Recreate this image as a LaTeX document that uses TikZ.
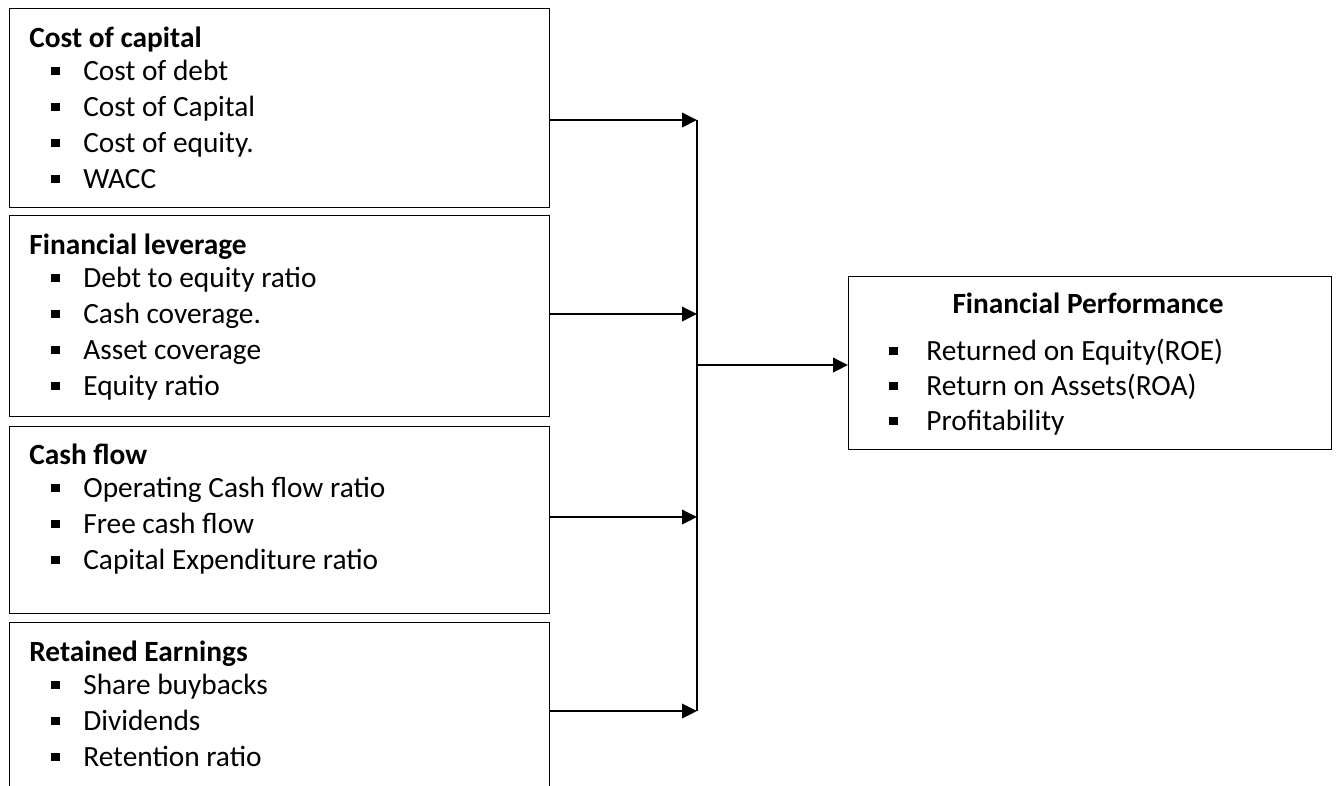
\documentclass[tikz,border=0pt]{standalone}
\usepackage{fontspec}
\setmainfont{Carlito}
\usetikzlibrary{arrows.meta}

\newcommand{\fs}{\fontsize{16.7}{20.5}\selectfont}
\newcommand{\sq}[1][0.64cm]{\makebox[#1][l]{\rule[0.1cm]{0.17cm}{0.17cm}}}
\tikzset{
  blk/.style={draw, line width=0.75pt, inner sep=0, anchor=north west},
  ttl/.style={font=\fs\bfseries, anchor=base west, inner sep=0},
  itm/.style={font=\fs, anchor=base west, inner sep=0},
  arr/.style={line width=1.1pt, -{Triangle[length=0.3cm,width=0.29cm]}},
  bus/.style={line width=1.1pt},
}

\begin{document}
\begin{tikzpicture}[x=0.02cm, y=-0.02cm]
\clip (0,0) rectangle (1341,785);
% boxes
\node[blk, minimum width=10.8cm, minimum height=3.98cm] (cap) at (9,8) {}; %cost of capital
\node[blk, minimum width=10.8cm, minimum height=4.02cm] (lev) at (9,215) {}; %leverage
\node[blk, minimum width=10.8cm, minimum height=3.74cm] (cash) at (9,426) {}; %cash flow
\node[blk, minimum width=10.8cm, minimum height=4.2cm] (ret) at (9,622) {}; %retained earnings
\node[blk, minimum width=9.66cm, minimum height=3.46cm] (fp) at (848,276) {}; %performance
% texts
\node[ttl] (capttl) at (29,47) {Cost of capital};
\foreach \t [count=\i from 0] in {Cost of debt, Cost of Capital, Cost of equity., WACC}
  { \node[itm] (capi\i) at (51,{80+36*\i}) {\sq\t}; }
\node[ttl] (levttl) at (29,254) {Financial leverage};
\foreach \t [count=\i from 0] in {Debt to equity ratio, Cash coverage., Asset coverage, Equity ratio}
  { \node[itm] (levi\i) at (51,{287+36*\i}) {\sq\t}; }
\node[ttl] (cashttl) at (29,464) {Cash flow};
\foreach \t [count=\i from 0] in {Operating Cash flow ratio, Free cash flow, Capital Expenditure ratio}
  { \node[itm] (cashi\i) at (51,{497+36*\i}) {\sq\t}; }
\node[ttl] (retttl) at (29,661) {Retained Earnings};
\foreach \t [count=\i from 0] in {Share buybacks, Dividends, Retention ratio}
  { \node[itm] (reti\i) at (51,{694+36*\i}) {\sq\t}; }
\node[ttl, anchor=base] (fpttl) at (1088,313) {Financial Performance};
\foreach \t [count=\i from 0] in {Returned on Equity(ROE), Return on Assets(ROA), Profitability}
  { \node[itm] (fpi\i) at (889,{360+35*\i}) {\sq[0.74cm]\t}; }
% connectors
\coordinate (j1) at (697,120);
\coordinate (j2) at (697,314);
\coordinate (j3) at (697,517);
\coordinate (j4) at (697,711);
\coordinate (j5) at (697,365);
\draw[bus] (j1) -- (j4);
\draw[arr] (cap.east |- j1) -- (j1);
\draw[arr] (lev.east |- j2) -- (j2);
\draw[arr] (cash.east |- j3) -- (j3);
\draw[arr] (ret.east |- j4) -- (j4);
\draw[arr] (j5) -- (fp.west |- j5);
\end{tikzpicture}
\end{document}
